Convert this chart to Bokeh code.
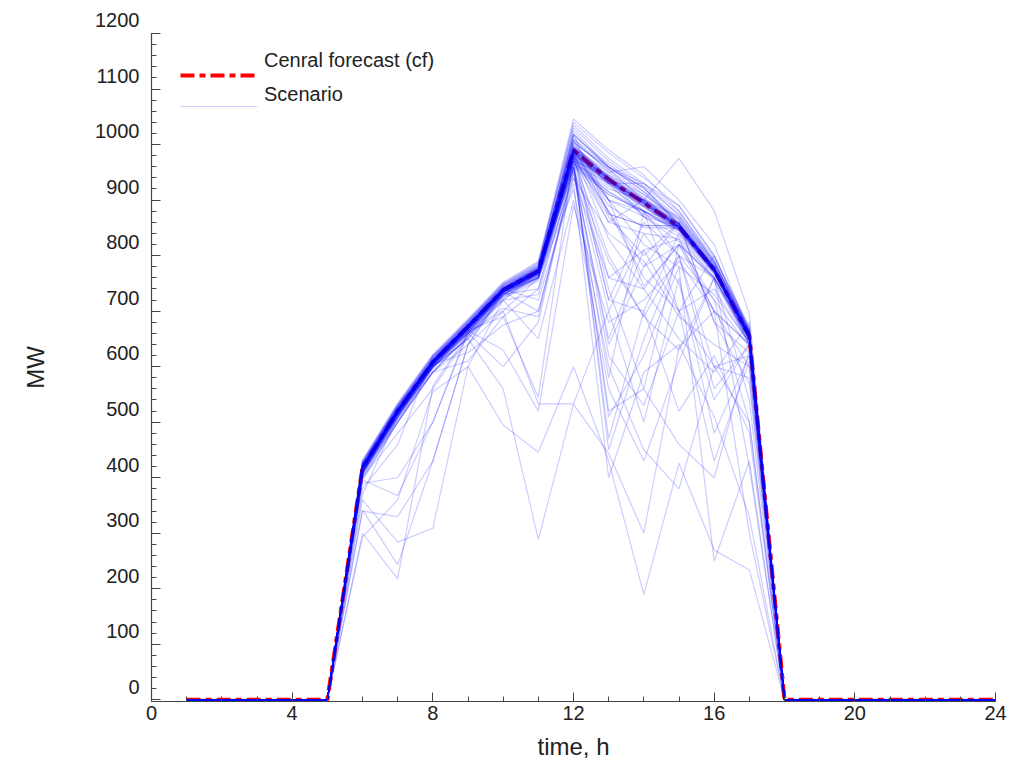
from bokeh.plotting import figure
from bokeh.models import Range1d, FixedTicker, Legend, LegendItem, CustomJSTickFormatter
from bokeh.embed import file_html
from bokeh.resources import INLINE

# ---------------- data ----------------
hours = list(range(1, 25))
night_morning = [0, 0, 0, 0, 0]            # hours 1-5
night_evening = [0, 0, 0, 0, 0, 0, 0]      # hours 18-24

# central forecast, daytime hours 6..17
cf_day = [418, 520, 608, 672, 738, 772, 990, 937, 895, 852, 775, 655]

# scenarios, daytime hours 6..17
core_scen = [
    [418, 520, 608, 672, 738, 772, 990, 937, 895, 852, 775, 655],
    [419, 521, 609, 673, 739, 773, 992, 938, 896, 853, 776, 656],
    [417, 519, 607, 671, 737, 771, 988, 936, 894, 851, 774, 654],
    [420, 522, 610, 674, 740, 774, 991, 939, 897, 852, 775, 655],
    [416, 518, 606, 670, 736, 770, 989, 935, 893, 850, 774, 654],
    [418, 521, 608, 672, 737, 772, 993, 940, 898, 854, 777, 657],
    [419, 520, 609, 673, 739, 773, 987, 934, 892, 851, 773, 653],
    [417, 519, 607, 671, 738, 771, 990, 938, 895, 853, 776, 656],
    [418, 520, 608, 672, 738, 772, 994, 941, 899, 855, 777, 657],
    [420, 521, 610, 674, 740, 773, 986, 933, 891, 850, 773, 654],
    [416, 519, 606, 671, 736, 771, 990, 937, 896, 852, 775, 655],
    [418, 520, 608, 672, 738, 772, 991, 936, 894, 851, 775, 655],
    [421, 523, 611, 675, 741, 776, 996, 943, 901, 857, 779, 659],
    [415, 517, 605, 669, 735, 768, 984, 931, 889, 847, 771, 651],
    [422, 524, 612, 676, 742, 777, 998, 945, 903, 858, 780, 660],
    [414, 516, 604, 668, 734, 767, 982, 929, 887, 846, 770, 650],
    [420, 523, 610, 675, 740, 775, 995, 942, 900, 856, 778, 658],
    [416, 517, 606, 669, 736, 769, 985, 932, 890, 848, 772, 652],
    [419, 522, 609, 673, 739, 774, 1019, 959, 923, 857, 778, 656],
    [417, 518, 607, 670, 737, 770, 995, 875, 854, 854, 776, 655],
    [421, 523, 611, 675, 741, 775, 966, 930, 900, 856, 777, 656],
    [418, 520, 608, 672, 738, 772, 1005, 955, 900, 853, 776, 655],
    [415, 517, 605, 669, 735, 769, 990, 900, 870, 852, 775, 655],
    [420, 522, 610, 674, 740, 775, 1010, 960, 915, 857, 778, 657],
    [419, 521, 609, 673, 739, 773, 970, 915, 875, 846, 771, 652],
    [417, 519, 607, 671, 737, 771, 1019, 958, 922, 856, 777, 656],
]
close_scen = [
    [425, 528, 615, 680, 745, 780, 1010, 950, 905, 858, 780, 660],
    [412, 515, 603, 668, 732, 768, 985, 930, 888, 848, 770, 650],
    [430, 532, 620, 684, 750, 788, 1025, 960, 915, 865, 785, 665],
    [405, 508, 598, 662, 728, 760, 975, 925, 880, 845, 768, 648],
    [422, 524, 612, 676, 742, 776, 1019, 875, 854, 854, 772, 652],
    [410, 512, 600, 665, 730, 764, 980, 940, 870, 835, 760, 645],
    [428, 530, 618, 682, 748, 784, 1040, 985, 940, 890, 800, 670],
    [414, 516, 605, 669, 735, 769, 965, 910, 880, 850, 775, 654],
    [424, 526, 613, 678, 744, 779, 1005, 955, 910, 862, 782, 662],
    [408, 510, 599, 663, 729, 762, 972, 920, 900, 870, 790, 660],
    [426, 529, 616, 681, 746, 782, 1030, 970, 925, 875, 790, 668],
    [400, 500, 590, 655, 722, 755, 960, 910, 880, 840, 765, 645],
    [432, 535, 622, 686, 752, 790, 1046, 990, 945, 880, 795, 672],
    [415, 517, 604, 668, 734, 768, 982, 860, 840, 830, 760, 648],
    [411, 513, 601, 666, 731, 765, 978, 930, 930, 880, 790, 662],
    [427, 530, 617, 680, 747, 783, 1015, 965, 920, 868, 786, 664],
    [413, 515, 603, 667, 733, 767, 970, 945, 910, 865, 784, 660],
    [425, 527, 614, 678, 745, 780, 1008, 900, 880, 860, 780, 656],
    [409, 511, 600, 664, 730, 763, 975, 935, 895, 850, 772, 652],
    [416, 518, 606, 670, 735, 770, 984, 930, 870, 825, 755, 640],
    [422, 525, 612, 676, 742, 777, 1002, 960, 930, 890, 800, 665],
    [406, 507, 596, 660, 726, 758, 965, 915, 880, 845, 770, 652],
    [429, 531, 619, 683, 749, 786, 1035, 975, 930, 872, 788, 666],
    [420, 521, 609, 673, 739, 773, 992, 890, 850, 850, 775, 655],
]
afternoon_scen = [
    [418, 520, 608, 672, 738, 772, 985, 830, 740, 820, 760, 650],
    [420, 522, 610, 674, 740, 775, 990, 760, 810, 830, 700, 640],
    [416, 518, 606, 670, 736, 770, 980, 900, 820, 780, 730, 645],
    [421, 523, 611, 675, 741, 776, 995, 950, 960, 900, 820, 660],
    [419, 521, 609, 673, 739, 773, 985, 720, 860, 800, 760, 640],
    [417, 519, 607, 671, 737, 771, 975, 800, 690, 800, 720, 635],
    [423, 525, 612, 676, 742, 777, 1000, 940, 880, 700, 740, 640],
    [415, 517, 605, 669, 735, 769, 980, 870, 800, 860, 680, 625],
]
wild_scen = [
    [300, 218, 565, 660, 700, 760, 960, 640, 780, 820, 760, 650],
    [342, 243, 430, 640, 735, 765, 975, 720, 700, 840, 770, 640],
    [360, 284, 309, 600, 720, 770, 985, 880, 760, 700, 600, 620],
    [396, 368, 500, 665, 690, 545, 980, 450, 650, 800, 560, 640],
    [293, 360, 555, 600, 495, 446, 600, 430, 190, 426, 270, 234],
    [410, 500, 600, 650, 560, 289, 532, 444, 300, 635, 700, 640],
    [415, 515, 590, 640, 700, 533, 533, 700, 500, 760, 480, 620],
    [418, 520, 605, 625, 675, 700, 950, 580, 880, 800, 600, 500],
    [405, 505, 590, 660, 705, 690, 960, 510, 620, 780, 250, 430],
    [380, 460, 620, 670, 735, 700, 940, 760, 740, 650, 590, 680],
    [340, 330, 430, 640, 730, 760, 970, 860, 900, 975, 881, 695],
    [420, 510, 610, 660, 600, 680, 960, 620, 530, 700, 430, 610],
    [390, 400, 500, 660, 740, 780, 970, 470, 700, 520, 620, 480],
    [410, 520, 600, 650, 720, 650, 900, 560, 430, 610, 760, 540],
    [400, 480, 560, 655, 735, 760, 940, 840, 790, 690, 640, 600],
    [420, 525, 610, 670, 740, 720, 930, 400, 590, 640, 510, 330],
    [370, 510, 605, 665, 630, 520, 890, 680, 720, 790, 700, 600],
    [410, 515, 600, 650, 730, 770, 960, 520, 560, 460, 400, 630],
    [400, 500, 590, 610, 690, 740, 980, 740, 560, 820, 700, 300],
    [415, 520, 605, 665, 735, 760, 920, 600, 450, 380, 600, 580],
    [410, 510, 600, 660, 720, 730, 960, 700, 840, 750, 540, 640],
    [418, 518, 602, 668, 735, 765, 975, 880, 780, 860, 680, 570],
    [408, 512, 600, 664, 730, 740, 950, 650, 810, 700, 800, 660],
    [395, 500, 590, 655, 725, 760, 985, 900, 745, 820, 720, 500],
    [410, 515, 605, 660, 735, 770, 955, 790, 690, 630, 760, 420],
]

x_ticks = [0, 4, 8, 12, 16, 20, 24]
x_minor = list(range(0, 25))
y_ticks = [0, 100, 200, 300, 400, 500, 600, 700, 800, 900, 1000, 1100, 1200]
y_minor = list(range(0, 1201, 20))

cf = night_morning + cf_day + night_evening
all_day = core_scen + close_scen + afternoon_scen + wild_scen
scen_ys = [night_morning + s + night_evening for s in all_day]
scen_xs = [hours for _ in all_day]

FONT = "Liberation Sans"
TXT = "#222222"
AX = "#444444"

p = figure(width=1010, height=762, x_range=Range1d(0, 24), y_range=Range1d(-3, 1200),
           output_backend="svg", toolbar_location=None,
           min_border_left=151, min_border_right=15, min_border_top=33, min_border_bottom=60)
p.outline_line_color = None
p.grid.visible = False
p.background_fill_color = "white"
p.border_fill_color = "white"

r_cf = p.line(hours, cf, line_color="red", line_width=4, line_dash="14 5 6 5")
r_sc = p.multi_line(scen_xs, scen_ys, line_color="blue", line_alpha=0.2, line_width=1.2)
# invisible carriers for the legend texts (text sits above its key line)
t_cf = p.line([], [], line_alpha=0)
t_sc = p.line([], [], line_alpha=0)

xa = p.xaxis[0]
xa.ticker = FixedTicker(ticks=x_ticks, minor_ticks=x_minor)
xa.bounds = (0, 24)
ya = p.yaxis[0]
ya.ticker = FixedTicker(ticks=y_ticks, minor_ticks=y_minor)
ya.bounds = (0, 1200)
ya.formatter = CustomJSTickFormatter(code="return tick.toFixed(0) + '\\n'")

for ax in (xa, ya):
    ax.axis_line_color = AX
    ax.axis_line_width = 1.2
    ax.major_tick_line_color = AX
    ax.minor_tick_line_color = AX
    ax.major_tick_in = 9
    ax.major_tick_out = 0
    ax.minor_tick_in = 5
    ax.minor_tick_out = 0
    ax.major_label_text_font = FONT
    ax.major_label_text_font_size = "20px"
    ax.major_label_text_color = TXT
    ax.axis_label_text_font = FONT
    ax.axis_label_text_font_size = "24px"
    ax.axis_label_text_font_style = "normal"
    ax.axis_label_text_color = TXT

xa.axis_label = "time, h"
xa.major_label_standoff = 4
xa.axis_label_standoff = 10
ya.axis_label = "MW"
ya.major_label_standoff = 12
ya.axis_label_standoff = 43

common = dict(padding=0, margin=0, spacing=11, glyph_width=77, glyph_height=20,
              label_height=20, label_standoff=7, border_line_color=None,
              background_fill_alpha=0, label_text_font=FONT,
              label_text_font_size="20px", label_text_color=TXT)
legend_keys = Legend(items=[LegendItem(label=" ", renderers=[r_cf]),
                            LegendItem(label=" ", renderers=[r_sc])],
                     location=(29, 585), **common)
legend_text = Legend(items=[LegendItem(label="Cenral forecast (cf)", renderers=[t_cf]),
                            LegendItem(label="Scenario", renderers=[t_sc])],
                     location=(29, 595), **common)
p.add_layout(legend_keys, "center")
p.add_layout(legend_text, "center")

open("out.html", "w").write(file_html(p, INLINE))
